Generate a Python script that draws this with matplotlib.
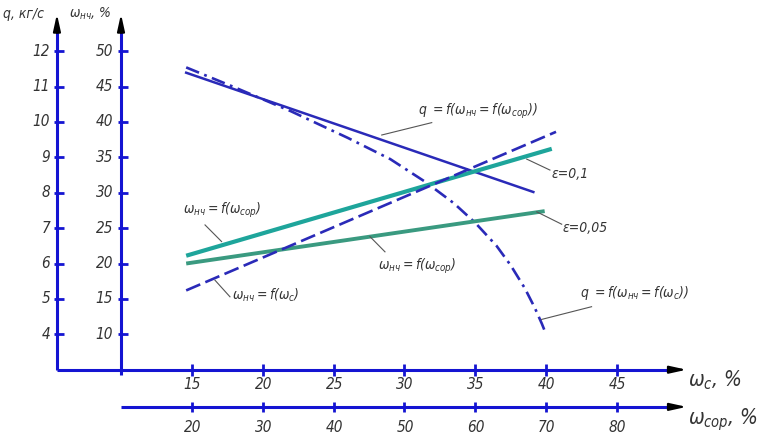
import numpy as np
import matplotlib
matplotlib.use("Agg")
import matplotlib.pyplot as plt
from matplotlib import font_manager

# ---- data ----
q_ticks = [4, 5, 6, 7, 8, 9, 10, 11, 12]
wnch_ticks = [10, 15, 20, 25, 30, 35, 40, 45, 50]
wc_ticks = [15, 20, 25, 30, 35, 40, 45]
wsor_ticks = [20, 30, 40, 50, 60, 70, 80]

# q = f(w_nch = f(w_sor)), solid
q_sor_x = [19.2, 68.2]
q_sor_y = [11.39, 8.02]
# q = f(w_nch = f(w_c)), dash-dot
q_c_x = [14.6, 18, 22, 26, 29, 31.5, 33.5, 35, 36.5, 37.5, 38.5, 39.2, 39.7, 40]
q_c_y = [11.54, 10.98, 10.3, 9.55, 8.95, 8.3, 7.7, 7.15, 6.5, 5.95, 5.3, 4.75, 4.3, 4.0]
# w_nch = f(w_sor), eps = 0.1
e01_x = [19.2, 70.8]
e01_y = [21.1, 36.2]
# w_nch = f(w_sor), eps = 0.05
e005_x = [19.2, 69.8]
e005_y = [20.0, 27.4]
# w_nch = f(w_c), dashed
wc_line_x = [14.6, 40.7]
wc_line_y = [16.2, 38.6]


def nch_to_q(v):
    return (np.asarray(v, float) + 10) / 5


def sor_to_c(v):
    return (np.asarray(v, float) + 10) / 2


names = {(f.name, f.stretch) for f in font_manager.fontManager.ttflist}
if any(n == "Liberation Sans Narrow" for n, s in names):
    fam, stretch = "Liberation Sans Narrow", "normal"
else:
    fam, stretch = "DejaVu Sans", "condensed"
plt.rcParams["font.family"] = [fam, "DejaVu Sans"]
plt.rcParams["font.style"] = "italic"
plt.rcParams["font.stretch"] = stretch
plt.rcParams["mathtext.fontset"] = "custom"
for k in ["rm", "it", "sf", "bf"]:
    plt.rcParams["mathtext." + k] = fam + ":style=italic:stretch=" + stretch
plt.rcParams["lines.scale_dashes"] = False

AX = "#1414d2"
BLUE = "#2a2ab8"
TEAL = "#1ea59b"
GREEN = "#3a9a80"
LEAD = "#555555"
TXT = "#333333"

fig = plt.figure(figsize=(7.61, 4.38), dpi=100)
ax = fig.add_axes([0, 0, 1, 1])
ax.set_xlim(1.461, 55.166)
ax.set_ylim(1.071, 13.444)
ax.axis("off")

# axes positions (in w_c / q units)
xq, xn = 5.48, 10.0
ytop, ybase = 13.05, 12.62
yc, ysor = 3.0, 1.95
xend, xbase = 49.92, 48.74
arw = dict(arrowstyle="-|>,head_length=1.0,head_width=0.22", color="black",
           lw=1.5, mutation_scale=10, shrinkA=0, shrinkB=0)

ax.plot([xq, xq], [yc, ybase], color=AX, lw=2.2, solid_capstyle="butt")
ax.plot([xn, xn], [yc - 0.15, ybase], color=AX, lw=2.2, solid_capstyle="butt")
ax.plot([xq, xbase], [yc, yc], color=AX, lw=2.2, solid_capstyle="butt")
ax.plot([xn, xbase], [ysor, ysor], color=AX, lw=2.2, solid_capstyle="butt")
for p0, p1 in [((xq, ybase - 0.1), (xq, ytop)), ((xn, ybase - 0.1), (xn, ytop)),
               ((xbase - 0.1, yc), (xend, yc)), ((xbase - 0.1, ysor), (xend, ysor))]:
    ax.annotate("", xy=p1, xytext=p0, arrowprops=arw)

# ticks
ax.plot([xq + 0.12] * len(q_ticks), q_ticks, ls="none", marker="_", ms=7, mew=2, color=AX)
ax.plot([xn + 0.12] * len(wnch_ticks), nch_to_q(wnch_ticks), ls="none", marker="_", ms=7, mew=2, color=AX)
ax.plot(wc_ticks, [yc] * len(wc_ticks), ls="none", marker="|", ms=8, mew=2, color=AX)
ax.plot(sor_to_c(wsor_ticks), [ysor] * len(wsor_ticks), ls="none", marker="|", ms=7, mew=2, color=AX)

fs = 11
for v in q_ticks:
    ax.text(4.99, v, str(v), ha="right", va="center", fontsize=fs, color=TXT)
for v, qq in zip(wnch_ticks, nch_to_q(wnch_ticks)):
    ax.text(9.44, qq, str(v), ha="right", va="center", fontsize=fs, color=TXT)
for v in wc_ticks:
    ax.text(v + 0.05, 2.57, str(v), ha="center", va="center", fontsize=fs, color=TXT)
for v, xx in zip(wsor_ticks, sor_to_c(wsor_ticks)):
    ax.text(xx + 0.05, 1.38, str(v), ha="center", va="center", fontsize=fs, color=TXT)

ax.text(1.7, 13.05, "q, кг/с", ha="left", va="center", fontsize=10, color=TXT)
ax.text(6.3, 13.05, r"$\omega_{нч}$, %", ha="left", va="center", fontsize=10, color=TXT)
ax.text(50.0, 2.71, r"$\omega_{с}$, %", ha="left", va="center", fontsize=15, color=TXT)
ax.text(50.0, 1.58, r"$\omega_{сор}$, %", ha="left", va="center", fontsize=15, color=TXT)

# curves
ax.plot(sor_to_c(q_sor_x), q_sor_y, color=BLUE, lw=1.8)
ax.plot(q_c_x, q_c_y, color=BLUE, lw=1.9, ls=(0, (10, 4, 2, 4)))
ax.plot(sor_to_c(e01_x), nch_to_q(e01_y), color=TEAL, lw=3.0, solid_capstyle="butt")
ax.plot(sor_to_c(e005_x), nch_to_q(e005_y), color=GREEN, lw=2.8, solid_capstyle="butt")
ax.plot(wc_line_x, nch_to_q(wc_line_y), color=BLUE, lw=1.9, ls=(0, (11, 4)))

# labels with leader lines
notes = [
    (r"$q\ =f(\omega_{нч}=f(\omega_{сор}))$", (30.96, 10.31), (31.93, 9.98), (28.4, 9.63)),
    ("ε=0,1", (40.39, 8.53), (38.63, 8.95), (40.27, 8.64)),
    ("ε=0,05", (41.17, 7.0), (39.34, 7.46), (41.1, 7.11)),
    (r"$\omega_{нч}=f(\omega_{сор})$", (14.4, 7.51), (15.93, 7.09), (17.1, 6.62)),
    (r"$\omega_{нч}=f(\omega_{сор})$", (28.14, 5.91), (27.57, 6.76), (28.63, 6.33)),
    (r"$\omega_{нч}=f(\omega_{с})$", (17.81, 5.11), (16.63, 5.53), (17.69, 5.06)),
    (r"$q\ =f(\omega_{нч}=f(\omega_{с}))$", (42.39, 5.16), (39.68, 4.42), (43.21, 4.78)),
]
for s, pos, a, b in notes:
    ax.plot([a[0], b[0]], [a[1], b[1]], color=LEAD, lw=0.8)
    ax.text(pos[0], pos[1], s, ha="left", va="center", fontsize=10, color=TXT)

fig.savefig("out.png", dpi=100)
